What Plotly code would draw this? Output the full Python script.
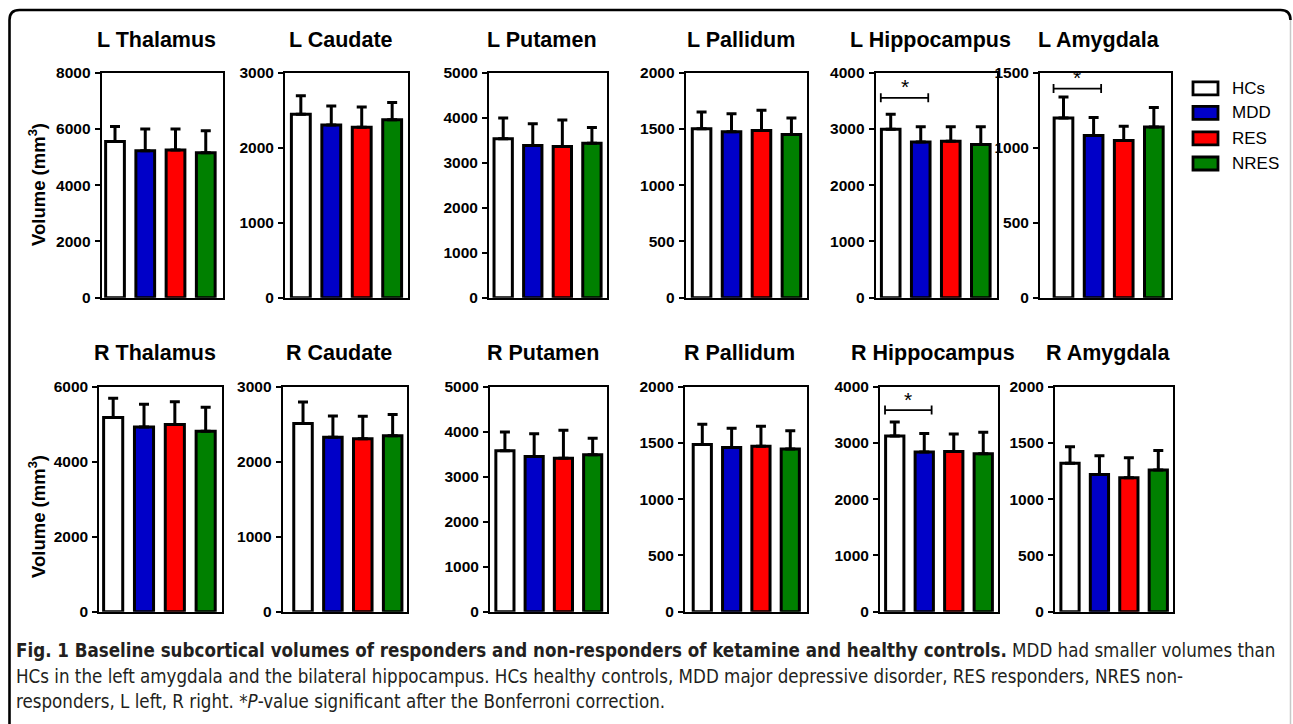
import plotly.graph_objects as go

# ---------------- data ----------------
groups = ["HCs", "MDD", "RES", "NRES"]

regions_top = ["L Thalamus", "L Caudate", "L Putamen", "L Pallidum", "L Hippocampus", "L Amygdala"]
regions_bottom = ["R Thalamus", "R Caudate", "R Putamen", "R Pallidum", "R Hippocampus", "R Amygdala"]

l_thalamus_mean = [5550, 5220, 5250, 5150]
l_thalamus_sd = [530, 770, 740, 780]
l_caudate_mean = [2445, 2300, 2270, 2370]
l_caudate_sd = [245, 255, 270, 230]
l_putamen_mean = [3530, 3380, 3355, 3430]
l_putamen_sd = [460, 480, 590, 350]
l_pallidum_mean = [1500, 1473, 1485, 1450]
l_pallidum_sd = [150, 160, 180, 145]
l_hippocampus_mean = [2990, 2765, 2780, 2720]
l_hippocampus_sd = [270, 270, 255, 315]
l_amygdala_mean = [1197, 1080, 1047, 1137]
l_amygdala_sd = [140, 120, 95, 130]

r_thalamus_mean = [5180, 4925, 4990, 4810]
r_thalamus_sd = [510, 610, 610, 640]
r_caudate_mean = [2510, 2325, 2305, 2345]
r_caudate_sd = [285, 285, 300, 285]
r_putamen_mean = [3575, 3447, 3410, 3490]
r_putamen_sd = [420, 510, 620, 365]
r_pallidum_mean = [1487, 1460, 1470, 1446]
r_pallidum_sd = [180, 170, 178, 163]
r_hippocampus_mean = [3123, 2840, 2850, 2810]
r_hippocampus_sd = [250, 330, 310, 380]
r_amygdala_mean = [1319, 1220, 1190, 1260]
r_amygdala_sd = [148, 166, 178, 172]

y_max = [8000, 3000, 5000, 2000, 4000, 1500, 6000, 3000, 5000, 2000, 4000, 2000]
y_dtick = [2000, 1000, 1000, 500, 1000, 500, 2000, 1000, 1000, 500, 1000, 500]

# significance brackets: panel index and bracket level
sig_panels = [4, 5, 10]
sig_levels = [3550, 1393, 3585]

caption_lines = [
    "<b>Fig. 1 Baseline subcortical volumes of responders and non-responders of ketamine and healthy controls.</b> MDD had smaller volumes than",
    "HCs in the left amygdala and the bilateral hippocampus. HCs healthy controls, MDD major depressive disorder, RES responders, NRES non-",
    "responders, L left, R right. *<i>P</i>-value significant after the Bonferroni correction.",
]

means = [l_thalamus_mean, l_caudate_mean, l_putamen_mean, l_pallidum_mean, l_hippocampus_mean, l_amygdala_mean,
         r_thalamus_mean, r_caudate_mean, r_putamen_mean, r_pallidum_mean, r_hippocampus_mean, r_amygdala_mean]
sds = [l_thalamus_sd, l_caudate_sd, l_putamen_sd, l_pallidum_sd, l_hippocampus_sd, l_amygdala_sd,
       r_thalamus_sd, r_caudate_sd, r_putamen_sd, r_pallidum_sd, r_hippocampus_sd, r_amygdala_sd]
titles = regions_top + regions_bottom

# ---------------- style / layout ----------------
W, H = 1293, 724
colors = ["#FFFFFF", "#0000C8", "#FF0000", "#008000"]
FONT = "Arial, Liberation Sans, Helvetica, sans-serif"
CAP_FONT = "Liberation Sans Narrow, Arial Narrow, DejaVu Sans Condensed, sans-serif"

# panel pixel boxes (x0, x1) and per-panel x ranges
top_x = [(101.7, 222.7), (285, 408.3), (489, 607.3), (685.7, 807.3), (875.7, 996.7), (1040, 1170.7)]
bot_x = [(99.3, 221.7), (282.7, 406.7), (490, 607.3), (685, 806.7), (880, 998.3), (1055, 1173.3)]
x_ranges = [(-0.44, 3.56), (-0.52, 3.53), (-0.48, 3.52), (-0.53, 3.53), (-0.5, 3.53), (-0.78, 3.56),
            (-0.45, 3.52), (-0.68, 3.47), (-0.51, 3.5), (-0.59, 3.56), (-0.5, 3.51), (-0.51, 3.51)]
top_y = (72.5, 297.7)
bot_y = (386.7, 611.7)
title_y = [40, 353]


def px(x):
    return x / W


def py(y):
    return 1 - y / H


fig = go.Figure()
layout = dict(width=W, height=H, margin=dict(l=0, r=0, t=0, b=0, pad=0, autoexpand=False),
              paper_bgcolor="white", plot_bgcolor="white", showlegend=False)
annotations = []
shapes = []

for i in range(12):
    row = 0 if i < 6 else 1
    x0, x1 = (top_x if row == 0 else bot_x)[i % 6]
    y0, y1 = top_y if row == 0 else bot_y
    n = i + 1
    xa = "x" if n == 1 else f"x{n}"
    ya = "y" if n == 1 else f"y{n}"
    fig.add_trace(go.Bar(
        x=list(range(4)), y=means[i], xaxis=xa, yaxis=ya,
        marker=dict(color=colors, line=dict(color="black", width=3)),
        width=0.62,
        error_y=dict(type="data", array=sds[i], arrayminus=[0] * 4, symmetric=False,
                     color="black", thickness=3, width=5),
        hoverinfo="skip",
    ))
    layout["xaxis" if n == 1 else f"xaxis{n}"] = dict(
        domain=[px(x0), px(x1)], anchor=ya, range=list(x_ranges[i]),
        showticklabels=False, ticks="", showgrid=False, zeroline=False, automargin=False,
        showline=True, linecolor="black", linewidth=2, mirror=True, fixedrange=True)
    layout["yaxis" if n == 1 else f"yaxis{n}"] = dict(
        domain=[py(y1), py(y0)], anchor=xa, range=[0, y_max[i]], dtick=y_dtick[i], tick0=0,
        showgrid=False, zeroline=False, showline=True, linecolor="black", linewidth=2,
        mirror=True, ticks="outside", ticklen=5, tickwidth=2, tickcolor="black", automargin=False,
        tickfont=dict(family=FONT, size=15.5, color="black", weight="bold"),
        ticklabelstandoff=1, fixedrange=True)
    annotations.append(dict(
        text=titles[i], xref="paper", yref="paper", x=px((x0 + x1) / 2), y=py(title_y[row]),
        xshift=-6, xanchor="center", yanchor="middle", showarrow=False,
        font=dict(family=FONT, size=21.5, color="black", weight="bold")))

# y-axis titles
for yc in [185, 517]:
    annotations.append(dict(
        text="Volume (mm<sup>3</sup>)", xref="paper", yref="paper", x=px(37), y=py(yc),
        xanchor="center", yanchor="middle", textangle=-90, showarrow=False,
        font=dict(family=FONT, size=18.5, color="black", weight="bold")))

# significance brackets
for p, lvl in zip(sig_panels, sig_levels):
    n = p + 1
    xr = "x" if n == 1 else f"x{n}"
    yr = "y" if n == 1 else f"y{n}"
    bx0, bx1 = -0.33, 1.25
    shapes.append(dict(type="line", xref=xr, yref=yr, x0=bx0, x1=bx1, y0=lvl, y1=lvl,
                       line=dict(color="black", width=1.8)))
    for bx in (bx0, bx1):
        shapes.append(dict(type="line", xref=xr, yref=yr, x0=bx, x1=bx, ysizemode="pixel",
                           yanchor=lvl, y0=-4.5, y1=4.5, line=dict(color="black", width=1.8)))
    annotations.append(dict(text="*", xref=xr, yref=yr, x=(bx0 + bx1) / 2, y=lvl,
                            yshift=11, xanchor="center", yanchor="middle", showarrow=False,
                            font=dict(family=FONT, size=21, color="black")))

# legend
leg_rows = [88.3, 112.8, 138.3, 163.5]
for g, c, yc in zip(groups, colors, leg_rows):
    shapes.append(dict(type="rect", xref="paper", yref="paper",
                       x0=px(1193), x1=px(1218), y0=py(yc + 6.5), y1=py(yc - 6.5),
                       fillcolor=c, line=dict(color="black", width=2.8)))
    annotations.append(dict(text=g, xref="paper", yref="paper", x=px(1230), y=py(yc),
                            xanchor="left", yanchor="middle", showarrow=False,
                            font=dict(family=FONT, size=17, color="black")))

# caption
for line, yc in zip(caption_lines, [650, 676, 701]):
    annotations.append(dict(text=line, xref="paper", yref="paper", x=px(14), y=py(yc),
                            xanchor="left", yanchor="middle", showarrow=False, align="left",
                            font=dict(family=CAP_FONT, size=18.6, color="#231F20")))

# rounded frame
r = 10
left, top, right, bottom = 9.5, 10, 1290.5, 740
path = (f"M {px(left)},{py(bottom)} L {px(left)},{py(top + r)} "
        f"Q {px(left)},{py(top)} {px(left + r)},{py(top)} L {px(right - r)},{py(top)} "
        f"Q {px(right)},{py(top)} {px(right)},{py(top + r)}")
shapes.append(dict(type="path", xref="paper", yref="paper", path=path,
                   line=dict(color="black", width=2.6)))
shapes.append(dict(type="line", xref="paper", yref="paper", x0=px(right), x1=px(right),
                   y0=py(top + r), y1=py(bottom), line=dict(color="#C8C8C8", width=1.5)))

layout["annotations"] = annotations
layout["shapes"] = shapes
fig.update_layout(**layout)
fig.write_html("out.html")
